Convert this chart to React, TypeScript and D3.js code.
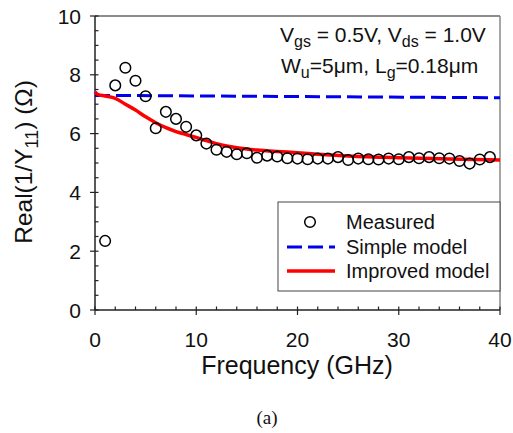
import React from "react";
import * as d3 from "d3";

const measFreq = [1,2,3,4,5,6,7,8,9,10,11,12,13,14,15,16,17,18,19,20,21,22,23,24,25,26,27,28,29,30,31,32,33,34,35,36,37,38,39];
const measVal = [2.35,7.64,8.24,7.8,7.27,6.18,6.74,6.5,6.23,5.94,5.66,5.45,5.38,5.3,5.33,5.18,5.25,5.22,5.16,5.15,5.13,5.15,5.15,5.2,5.1,5.15,5.13,5.12,5.15,5.13,5.2,5.16,5.2,5.16,5.15,5.07,4.98,5.12,5.2];

const impFreq = [0,0.3,1,2,3,4,5,6,7,8,9,10,11,12,13,14,16,18,20,22,25,30,35,40];
const impVal = [7.42,7.33,7.28,7.2,7.0,6.8,6.57,6.37,6.2,6.07,5.97,5.87,5.76,5.66,5.58,5.52,5.44,5.39,5.35,5.3,5.24,5.18,5.14,5.1];

const simFreq = [0,40];
const simVal = [7.3,7.22];

const xTicks = [0,10,20,30,40];
const yTicks = [0,2,4,6,8,10];

const legendLabels = ["Measured","Simple model","Improved model"];

const M = { left: 95, right: 500, top: 16, bottom: 310 };
const FONT = "Liberation Sans, Arial, sans-serif";

export default function App() {
  const x = d3.scaleLinear().domain([0, 40]).range([M.left, M.right]);
  const y = d3.scaleLinear().domain([0, 10]).range([M.bottom, M.top]);

  const line = d3.line<[number, number]>().x(d => x(d[0])).y(d => y(d[1])).curve(d3.curveMonotoneX);
  const impPath = line(impFreq.map((f, i) => [f, impVal[i]]) as [number, number][]) || "";
  const simPath = line(simFreq.map((f, i) => [f, simVal[i]]) as [number, number][]) || "";

  const xMinor = d3.range(0, 40.01, 2);
  const yMinor = d3.range(0, 10.01, 0.5);

  return (
    <svg width={513} height={433} style={{ position: "absolute", left: 0, top: 0 }} fontFamily={FONT}>
      <rect x={0} y={0} width={513} height={433} fill="#fff" />
      {/* frame */}
      <line x1={M.left} x2={M.right} y1={M.top} y2={M.top} stroke="#666" strokeWidth={1.5} />
      <line x1={M.right} x2={M.right} y1={M.top} y2={M.bottom} stroke="#888" strokeWidth={1.5} />
      {/* axes */}
      <line x1={M.left} x2={M.left} y1={M.top} y2={M.bottom} stroke="#222" strokeWidth={1.5} />
      <line x1={M.left} x2={M.right} y1={M.bottom} y2={M.bottom} stroke="#222" strokeWidth={1.5} />
      {yMinor.map(v => (
        <line key={"ym" + v} x1={M.left} x2={M.left + 3.5} y1={y(v)} y2={y(v)} stroke="#222" strokeWidth={1.2} />
      ))}
      {yTicks.map(v => (
        <line key={"yM" + v} x1={M.left - 5} x2={M.left} y1={y(v)} y2={y(v)} stroke="#222" strokeWidth={1.2} />
      ))}
      {xMinor.map(v => (
        <line key={"xm" + v} x1={x(v)} x2={x(v)} y1={M.bottom} y2={M.bottom - 3.5} stroke="#222" strokeWidth={1.2} />
      ))}
      {xTicks.map(v => (
        <line key={"xM" + v} x1={x(v)} x2={x(v)} y1={M.bottom} y2={M.bottom + 5} stroke="#222" strokeWidth={1.2} />
      ))}
      {yTicks.map(v => (
        <text key={"yl" + v} x={M.left - 14} y={y(v) + 7.5} textAnchor="end" fontSize={21} fill="#111">{v}</text>
      ))}
      {xTicks.map(v => (
        <text key={"xl" + v} x={x(v)} y={347} textAnchor="middle" fontSize={21} fill="#111">{v}</text>
      ))}
      <text x={297} y={374} textAnchor="middle" fontSize={25} fill="#111">Frequency (GHz)</text>
      <text transform={`translate(32,${162}) rotate(-90)`} textAnchor="middle" fontSize={24.5} fill="#111">
        Real(1/Y<tspan dy={6} fontSize={18}>11</tspan><tspan dy={-6}>) (Ω)</tspan>
      </text>
      <text x={267} y={424} textAnchor="middle" fontSize={19} fontFamily="Liberation Serif, Times New Roman, serif" fill="#111">(a)</text>

      {/* series */}
      <path d={simPath} fill="none" stroke="#0000ee" strokeWidth={3} strokeDasharray="15 6" />
      <path d={impPath} fill="none" stroke="#ff0000" strokeWidth={3.5} />
      {measFreq.map((f, i) => (
        <circle key={"c" + i} cx={x(f)} cy={y(measVal[i])} r={5.3} fill="none" stroke="#000" strokeWidth={1.5} />
      ))}

      {/* annotation */}
      <text x={280} y={42} fontSize={21} fill="#111">
        V<tspan dy={5} fontSize={16}>gs</tspan><tspan dy={-5}> = 0.5V, V</tspan><tspan dy={5} fontSize={16}>ds</tspan><tspan dy={-5}> = 1.0V</tspan>
      </text>
      <text x={281} y={73} fontSize={21} fill="#111">
        W<tspan dy={5} fontSize={16}>u</tspan><tspan dy={-5}>=5μm, L</tspan><tspan dy={5} fontSize={16}>g</tspan><tspan dy={-5}>=0.18μm</tspan>
      </text>

      {/* legend */}
      <rect x={278} y={202} width={222} height={89} fill="#fff" stroke="#444" strokeWidth={1} />
      <circle cx={310} cy={222} r={5.3} fill="none" stroke="#000" strokeWidth={1.5} />
      <line x1={287} x2={335} y1={247} y2={247} stroke="#0000ee" strokeWidth={3} strokeDasharray="15 6" />
      <line x1={287} x2={335} y1={271} y2={271} stroke="#ff0000" strokeWidth={3.5} />
      {legendLabels.map((t, i) => (
        <text key={t} x={346} y={229 + i * 24.5} fontSize={20} fill="#111">{t}</text>
      ))}
    </svg>
  );
}
